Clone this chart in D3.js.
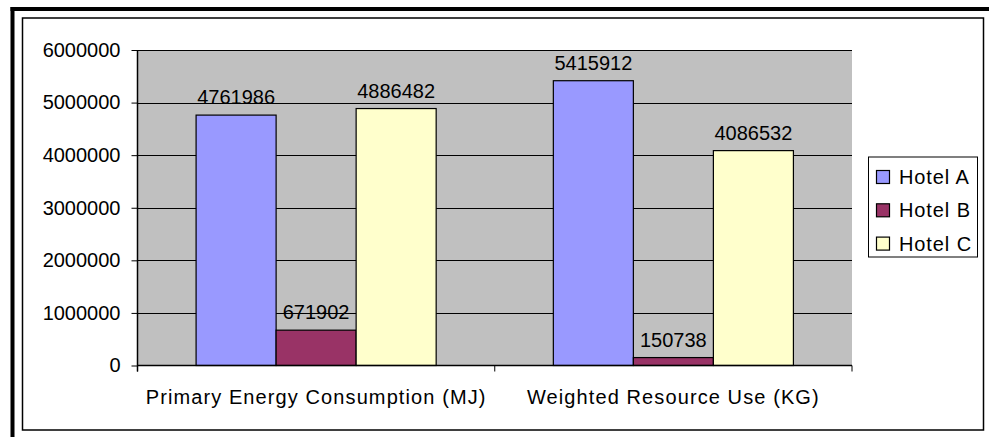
<!DOCTYPE html>
<html>
<head>
<meta charset="utf-8">
<script src="https://cdn.jsdelivr.net/npm/d3@7/dist/d3.min.js"></script>
<style>
  body { margin: 0; background: #fff; }
  text { font-family: "Liberation Sans", Arial, sans-serif; font-size: 20px; fill: #000; }
</style>
</head>
<body>
<div id="app"></div>
<script>
var categories = ['Primary Energy Consumption (MJ)', 'Weighted Resource Use (KG)'];
var series = ['Hotel A', 'Hotel B', 'Hotel C'];
var hotelA = [4761986, 5415912];
var hotelB = [671902, 150738];
var hotelC = [4886482, 4086532];
var yTicks = [0, 1000000, 2000000, 3000000, 4000000, 5000000, 6000000];
var colors = ['#9999FF', '#993366', '#FFFFCC'];

var values = [hotelA, hotelB, hotelC];

var width = 989, height = 437;
// plot area edges (window.top is read-only, so no "top" here)
var plotL = 137.5, plotR = 852, plotT = 50, plotB = 365.5;

var svg = d3.select('#app')
    .append('svg')
    .attr('width', width)
    .attr('height', height)

// outer frame
svg.append('line')
    .attr('x1', 12.5).attr('y1', 7).attr('x2', 12.5).attr('y2', height)
    .attr('stroke', '#000').attr('stroke-width', 4)
svg.append('line')
    .attr('x1', 10.5).attr('y1', 9).attr('x2', width).attr('y2', 9)
    .attr('stroke', '#000').attr('stroke-width', 4)
svg.append('rect')
    .attr('x', 22.5).attr('y', 18)
    .attr('width', 961).attr('height', 412)
    .attr('fill', '#fff')
    .attr('stroke', '#000').attr('stroke-width', 1.5)

var y = d3.scaleLinear()
    .domain([0, 6000000])
    .range([plotB, plotT])

var x0 = d3.scaleBand()
    .domain(categories)
    .range([plotL, plotR])
    .paddingInner(0.328)
    .paddingOuter(0.164)

var x1 = d3.scaleBand()
    .domain(series)
    .range([0, x0.bandwidth()])

// plot background + gridlines
svg.append('rect')
    .attr('x', plotL).attr('y', plotT)
    .attr('width', plotR - plotL).attr('height', plotB - plotT)
    .attr('fill', '#C0C0C0')

svg.append('g')
    .selectAll('line')
    .data(yTicks.slice(1))
    .enter()
    .append('line')
    .attr('x1', plotL).attr('x2', plotR)
    .attr('y1', function (d) { return Math.round(y(d)) + 0.5 })
    .attr('y2', function (d) { return Math.round(y(d)) + 0.5 })
    .attr('stroke', '#000')
    .attr('stroke-width', 1)

// bars
var groups = svg.append('g')
    .selectAll('g')
    .data(categories)
    .enter()
    .append('g')
    .attr('transform', function (d) { return 'translate(' + x0(d) + ',0)' })

groups.selectAll('rect')
    .data(function (d, i) {
        return series.map(function (s, j) { return { s: s, v: values[j][i], c: colors[j] } })
    })
    .enter()
    .append('rect')
    .attr('x', function (d) { return x1(d.s) })
    .attr('y', function (d) { return y(d.v) })
    .attr('width', x1.bandwidth())
    .attr('height', function (d) { return plotB - y(d.v) })
    .attr('fill', function (d) { return d.c })
    .attr('stroke', '#000')
    .attr('stroke-width', 1.2)

groups.selectAll('text')
    .data(function (d, i) {
        return series.map(function (s, j) { return { s: s, v: values[j][i] } })
    })
    .enter()
    .append('text')
    .attr('x', function (d) { return x1(d.s) + x1.bandwidth() / 2 })
    .attr('y', function (d) { return y(d.v) - 11 })
    .attr('text-anchor', 'middle')
    .text(function (d) { return d.v })

// y axis
var yAxis = svg.append('g')
    .attr('transform', 'translate(' + plotL + ',0)')
    .call(d3.axisLeft(y).tickValues(yTicks).tickSize(6).tickPadding(11).tickFormat(d3.format('d')))
yAxis.select('.domain').remove()
yAxis.attr('font-size', null).attr('font-family', null)
yAxis.selectAll('line').attr('stroke', '#000')
yAxis.selectAll('text').attr('fill', null)
svg.append('line')
    .attr('x1', plotL).attr('x2', plotL)
    .attr('y1', plotT).attr('y2', plotB + 6)
    .attr('stroke', '#000').attr('stroke-width', 1.5)

// x axis
svg.append('line')
    .attr('x1', plotL).attr('x2', plotR)
    .attr('y1', plotB).attr('y2', plotB)
    .attr('stroke', '#000').attr('stroke-width', 1.5)
var bounds = [plotL, (x0(categories[0]) + x0.bandwidth() + x0(categories[1])) / 2, plotR]
svg.append('g')
    .selectAll('line')
    .data(bounds)
    .enter()
    .append('line')
    .attr('x1', function (d) { return d }).attr('x2', function (d) { return d })
    .attr('y1', plotB).attr('y2', plotB + 6)
    .attr('stroke', '#000')
svg.append('g')
    .selectAll('text')
    .data(categories)
    .enter()
    .append('text')
    .attr('x', function (d) { return x0(d) + x0.bandwidth() / 2 })
    .attr('y', 404)
    .attr('text-anchor', 'middle')
    .attr('letter-spacing', '1.1px')
    .text(function (d) { return d })

// legend
var legend = svg.append('g')
    .attr('transform', 'translate(868.5,157)')
legend.append('rect')
    .attr('width', 109).attr('height', 100)
    .attr('fill', '#fff')
    .attr('stroke', '#000').attr('stroke-width', 1)
var items = legend.selectAll('g')
    .data(series)
    .enter()
    .append('g')
    .attr('transform', function (d, i) { return 'translate(0,' + (20 + i * 33.3) + ')' })
items.append('rect')
    .attr('x', 8).attr('y', -6.5)
    .attr('width', 13).attr('height', 13)
    .attr('fill', function (d, i) { return colors[i] })
    .attr('stroke', '#000').attr('stroke-width', 1.2)
items.append('text')
    .attr('x', 30.5).attr('y', 7)
    .attr('letter-spacing', '0.9px')
    .text(function (d) { return d })
</script>
</body>
</html>
